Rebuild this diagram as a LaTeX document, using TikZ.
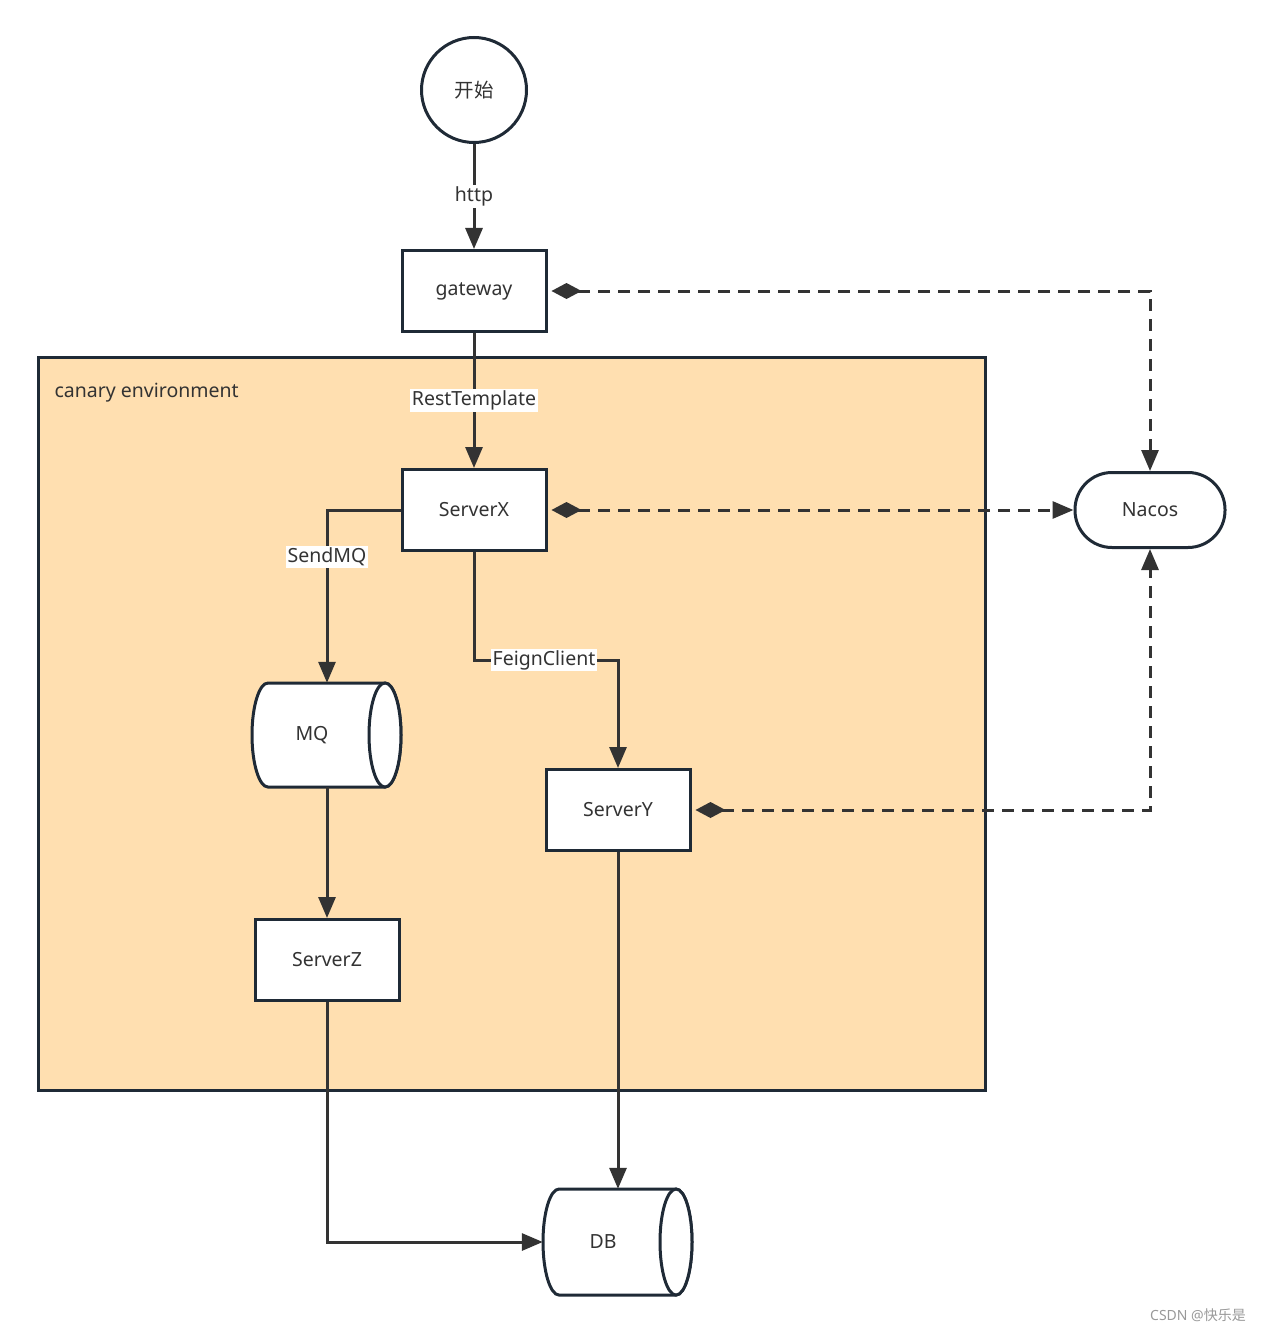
\documentclass[tikz,border=0pt]{standalone}
\usepackage{fontspec}
\setmainfont{Noto Sans}
\newfontfamily\cjk{Noto Sans CJK SC}
\usetikzlibrary{arrows.meta}
\definecolor{edgec}{HTML}{333333}
\definecolor{shapec}{HTML}{1F2A36}
\definecolor{txtc}{HTML}{333333}
\definecolor{canary}{HTML}{FFDFB0}
\tikzset{
  box/.style={draw=shapec, line width=3pt, fill=white, minimum width=144pt, minimum height=81pt, inner sep=0pt, text=txtc, font=\fontsize{19.5}{22}\selectfont},
  conn/.style={draw=edgec, line width=3pt, -{Triangle[length=21pt,width=17pt]}},
  dconn/.style={draw=edgec, line width=3pt, dash pattern=on 12pt off 8pt, {Diamond[length=30pt,width=16pt]}-{Triangle[length=21pt,width=17pt]}, shorten <=4pt},
  lbl/.style={fill=white, inner sep=1.5pt, text=txtc, font=\fontsize{19.5}{22}\selectfont},
  cyl/.style={draw=shapec, line width=3pt, fill=white},
  ctext/.style={text=txtc, font=\fontsize{19.5}{22}\selectfont},
}
\begin{document}
\begin{tikzpicture}[x=1pt, y=-1pt]
\useasboundingbox (0,0) rectangle (1263,1332);
% canary environment
\node[draw=shapec, line width=3pt, fill=canary, minimum width=947pt, minimum height=733pt, inner sep=0pt, anchor=north west] (env) at (37,356) {};
\node[ctext, anchor=west] (envlabel) at (51,393) {canary environment};

% start
\node[draw=shapec, line width=3pt, fill=white, circle, minimum size=105pt, inner sep=0pt, text=txtc, font=\cjk\fontsize{19.5}{22}\selectfont] (start) at (474,90) {开始};

% boxes
\node[box] (gateway) at (474,291) {\raisebox{-2pt}{gateway}};
\node[box] (serverx) at (474,510) {ServerX};
\node[box] (servery) at (618,810) {ServerY};
\node[box] (serverz) at (327,960) {ServerZ};
\node[draw=shapec, line width=3pt, fill=white, rounded corners=37pt, minimum width=150pt, minimum height=75pt, inner sep=0pt, text=txtc, font=\fontsize{19.5}{22}\selectfont] (nacos) at (1150,510) {Nacos};

% MQ cylinder
\path[cyl] (268,683) arc[start angle=270, end angle=90, x radius=16, y radius=52] -- (385,787) arc[start angle=90, end angle=-90, x radius=16, y radius=52] -- cycle;
\draw[cyl] (385,735) ellipse[x radius=16, y radius=52];
\node[inner sep=0pt, minimum width=149pt, minimum height=104pt] (mq) at (327,735) {};
\node[ctext] (mqlabel) at (312,735) {MQ};

% DB cylinder
\path[cyl] (559,1189) arc[start angle=270, end angle=90, x radius=16, y radius=53] -- (676,1295) arc[start angle=90, end angle=-90, x radius=16, y radius=53] -- cycle;
\draw[cyl] (676,1242) ellipse[x radius=16, y radius=53];
\node[inner sep=0pt, minimum width=149pt, minimum height=106pt] (db) at (617.5,1242) {};
\node[ctext] (dblabel) at (603,1242) {DB};

% connectors
\draw[conn] (start) -- node[lbl] {http} (gateway);
\draw[conn] (gateway) -- node[lbl] {RestTemplate} (serverx);
\draw[conn] (serverx.west) -| node[lbl, pos=0.636] {SendMQ} (mq.north);
\coordinate (fk) at (544,660);
\draw[conn] (serverx.south) |- (fk) -| (servery.north);
\node[lbl] (fklabel) at (fk) {FeignClient};
\draw[conn] (mq.south) -- (serverz.north);
\draw[conn] (serverz.south) |- (db.west);
\draw[conn] (servery.south) -- (db.north -| servery.south);

% dashed registry links
\draw[dconn] (gateway.east) -| (nacos.north);
\draw[dconn] (serverx.east) -- (nacos.west);
\draw[dconn] (servery.east) -| (nacos.south);

% watermark
\node[text=black!40, font=\fontsize{14}{16}\selectfont] (wm) at (1198,1315) {CSDN @{\cjk 快乐是}};
\end{tikzpicture}
\end{document}
